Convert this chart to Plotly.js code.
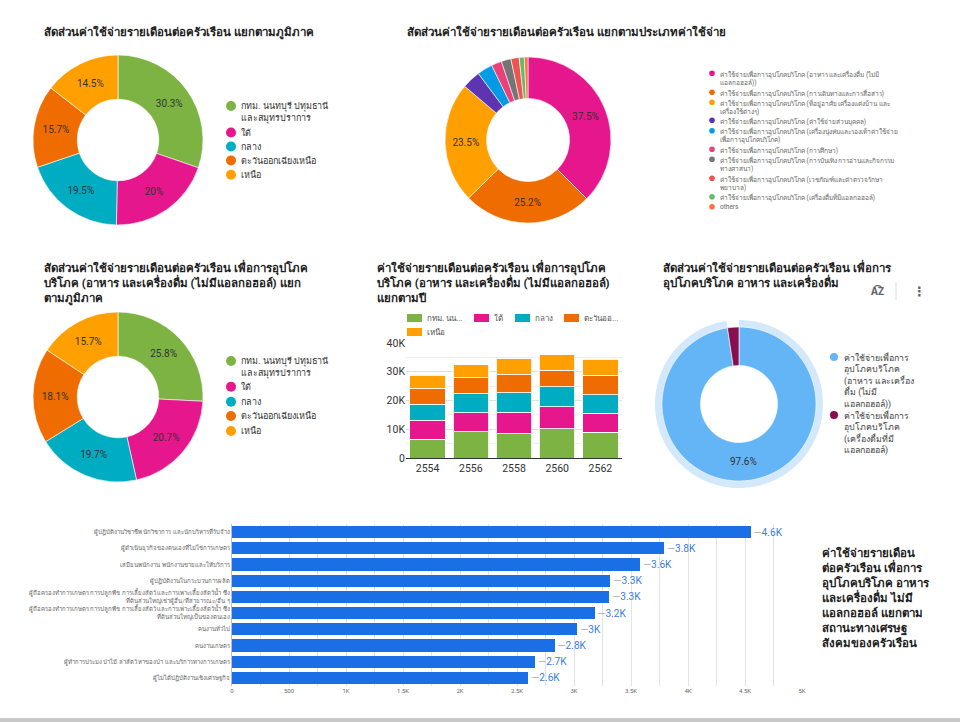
<!DOCTYPE html>
<html><head><meta charset="utf-8">
<script src="https://cdn.plot.ly/plotly-3.0.1.min.js"></script>
<style>html,body{margin:0;padding:0;background:#fff;}#chart{width:960px;height:722px;}</style>
</head><body><div id="chart"></div>
<script>
// ---------- data ----------
const regionNames = ['กทม. นนทบุรี ปทุมธานี<br>และสมุทรปราการ', 'ใต้', 'กลาง', 'ตะวันออกเฉียงเหนือ', 'เหนือ'];
const regionColors = ['#7cb342', '#e6168c', '#00acc1', '#ef6c00', '#ffa000'];
const regionShareAll = [30.3, 20, 19.5, 15.7, 14.5];
const regionShareFood = [25.8, 20.7, 19.7, 18.1, 15.7];

const expenseNames = [
  'ค่าใช้จ่ายเพื่อการอุปโภคบริโภค (อาหาร และเครื่องดื่ม (ไม่มี<br>แอลกอฮอล์))',
  'ค่าใช้จ่ายเพื่อการอุปโภคบริโภค (การเดินทางและการสื่อสาร)',
  'ค่าใช้จ่ายเพื่อการอุปโภคบริโภค (ที่อยู่อาศัย เครื่องแต่งบ้าน และ<br>เครื่องใช้ต่างๆ)',
  'ค่าใช้จ่ายเพื่อการอุปโภคบริโภค (ค่าใช้จ่ายส่วนบุคคล)',
  'ค่าใช้จ่ายเพื่อการอุปโภคบริโภค (เครื่องนุ่งห่มและรองเท้าค่าใช้จ่าย<br>เพื่อการอุปโภคบริโภค)',
  'ค่าใช้จ่ายเพื่อการอุปโภคบริโภค (การศึกษา)',
  'ค่าใช้จ่ายเพื่อการอุปโภคบริโภค (การบันเทิง การอ่านและกิจกรรม<br>ทางศาสนา)',
  'ค่าใช้จ่ายเพื่อการอุปโภคบริโภค (เวชภัณฑ์และค่าตรวจรักษา<br>พยาบาล)',
  'ค่าใช้จ่ายเพื่อการอุปโภคบริโภค (เครื่องดื่มที่มีแอลกอฮอล์)',
  'others'
];
const expenseColors = ['#e6168c', '#ef6c00', '#ffa000', '#5e35b1', '#039be5', '#ec407a', '#757575', '#ef5350', '#66bb6a', '#ff7043'];
const expenseShare = [37.5, 25.2, 23.5, 3.6, 3.0, 2.0, 1.9, 1.6, 1.0, 0.7];

const years = ['2554', '2556', '2558', '2560', '2562'];
const foodBkk = [6600, 9100, 8500, 10100, 9000];
const foodSouth = [6500, 6600, 7500, 7700, 6600];
const foodCentral = [5600, 6700, 6700, 6900, 6400];
const foodNortheast = [5400, 5500, 6300, 5900, 6700];
const foodNorth = [4700, 4600, 5500, 5300, 5600];
const barLegendNames = ['กทม. นน...', 'ใต้', 'กลาง', 'ตะวันออ...', 'เหนือ'];
const yTickVals = [0, 10000, 20000, 30000, 40000];
const yTickText = ['0', '10K', '20K', '30K', '40K'];

const foodTypeNames = [
  'ค่าใช้จ่ายเพื่อการ<br>อุปโภคบริโภค<br>(อาหาร และเครื่อง<br>ดื่ม (ไม่มี<br>แอลกอฮอล์))',
  'ค่าใช้จ่ายเพื่อการ<br>อุปโภคบริโภค<br>(เครื่องดื่มที่มี<br>แอลกอฮอล์)'
];
const foodTypeShare = [97.6, 2.4];
const foodTypeColors = ['#64b5f6', '#880e4f'];

const statusNames = [
  'ผู้ปฏิบัติงานวิชาชีพ นักวิชาการ และนักบริหารที่รับจ้าง',
  'ผู้ดำเนินธุรกิจของตนเองที่ไม่ใช่การเกษตร',
  'เสมียนพนักงาน พนักงานขายและให้บริการ',
  'ผู้ปฏิบัติงานในกระบวนการผลิต',
  'ผู้ถือครองทำการเกษตร การปลูกพืช การเลี้ยงสัตว์ และการเพาะเลี้ยงสัตว์น้ำ ซึ่ง<br>ที่ดินส่วนใหญ่เช่าผู้อื่น/ที่สาธารณะ/อื่น ๆ',
  'ผู้ถือครองทำการเกษตร การปลูกพืช การเลี้ยงสัตว์ และการเพาะเลี้ยงสัตว์น้ำ ซึ่ง<br>ที่ดินส่วนใหญ่เป็นของตนเอง',
  'คนงานทั่วไป',
  'คนงานเกษตร',
  'ผู้ทำการประมง ป่าไม้ ล่าสัตว์ หาของป่า และบริการทางการเกษตร',
  'ผู้ไม่ได้ปฏิบัติงานเชิงเศรษฐกิจ'
];
const statusSpend = [4550, 3790, 3580, 3320, 3310, 3180, 3030, 2830, 2660, 2600];
const xTickVals = [0, 500, 1000, 1500, 2000, 2500, 3000, 3500, 4000, 4500, 5000];
const xTickText = ['0', '500', '1K', '1.5K', '2K', '2.5K', '3K', '3.5K', '4K', '4.5K', '5K'];

// ---------- helpers ----------
const W = 960, H = 722;
const FONT = 'Roboto, "Noto Sans", "DejaVu Sans", sans-serif';
const X = px => px / W;
const Y = py => 1 - py / H;
const annotations = [];
const shapes = [];
function ann(text, x, y, o) {
  o = o || {};
  annotations.push(Object.assign({
    text: text, x: X(x), y: Y(y), xref: 'paper', yref: 'paper', showarrow: false,
    xanchor: 'left', yanchor: 'middle', align: 'left',
    font: {family: FONT, size: o.size || 10, color: o.color || '#333'}
  }, o.extra || {}));
}
function title(text, x, y, size) {
  ann('<b>' + text + '</b>', x, y - size * 0.65 - 1, {size: size, color: '#212121', extra: {yanchor: 'top'}});
}
function dotLegend(names, colors, dotX, textX, ys, r, size, color) {
  names.forEach((n, i) => {
    shapes.push({type: 'circle', xref: 'paper', yref: 'paper', x0: X(dotX - r), x1: X(dotX + r), y0: Y(ys[i] + r), y1: Y(ys[i] - r), fillcolor: colors[i], line: {width: 0}});
    ann(n, textX, ys[i] - size * 0.65 - 1, {size: size, color: color, extra: {yanchor: 'top'}});
  });
}
function pie(values, colors, names, box, hole) {
  return {
    type: 'pie', values: values, labels: names.map(s => s.replace(/<br>/g, ' ')),
    marker: {colors: colors, line: {color: '#ffffff', width: 0.6}},
    domain: {x: [X(box[0]), X(box[2])], y: [Y(box[3]), Y(box[1])]},
    hole: hole, sort: false, direction: 'clockwise', rotation: 0,
    textinfo: 'percent', textposition: values.map(v => v >= 5 ? 'inside' : 'none'),
    insidetextorientation: 'horizontal',
    insidetextfont: {family: FONT, size: 10, color: '#333'},
    showlegend: false, hoverinfo: 'label+percent'
  };
}

// ---------- traces ----------
const traces = [];
traces.push(pie(regionShareAll, regionColors, regionNames, [33, 55, 203, 225], 0.48));
traces.push(pie(expenseShare, expenseColors, expenseNames, [445, 57, 611, 223], 0.5));
traces.push(pie(regionShareFood, regionColors, regionNames, [33, 312, 203, 482], 0.48));
// highlight ring behind the last donut
traces.push({
  type: 'pie', values: foodTypeShare, labels: ['r1', 'r2'], sort: false, direction: 'clockwise', rotation: 0,
  marker: {colors: ['#d3e8fb', 'rgba(0,0,0,0)'], line: {width: 0}},
  domain: {x: [X(655), X(823)], y: [Y(488), Y(320)]}, hole: 0.9, textinfo: 'none', showlegend: false, hoverinfo: 'skip'
});
traces.push(pie(foodTypeShare, foodTypeColors, foodTypeNames, [662, 327, 816, 481], 0.5));

const stackSeries = [foodBkk, foodSouth, foodCentral, foodNortheast, foodNorth];
stackSeries.forEach((s, i) => {
  traces.push({
    type: 'bar', x: years, y: s, name: barLegendNames[i], xaxis: 'x', yaxis: 'y',
    marker: {color: regionColors[i], line: {color: 'rgba(255,255,255,0.85)', width: 1}},
    showlegend: false, hovertemplate: '%{x}: %{y}<extra></extra>'
  });
});

const statusText = statusSpend.map(v => (Math.round(v / 100) / 10).toString() + 'K');
traces.push({
  type: 'bar', orientation: 'h', x: statusSpend, y: statusNames, xaxis: 'x2', yaxis: 'y2',
  width: 0.76,
  marker: {color: '#1a6fe6'}, text: statusText,
  texttemplate: "<span style='color:#b0b0b0'>—</span>%{text}", textposition: 'outside',
  textfont: {family: FONT, size: 11.5, color: '#3b7de0'}, cliponaxis: false, showlegend: false,
  hovertemplate: '%{y}: %{x}<extra></extra>'
});

// ---------- text / legends ----------
title('สัดส่วนค่าใช้จ่ายรายเดือนต่อครัวเรือน แยกตามภูมิภาค', 42, 31, 11.5);
title('สัดส่วนค่าใช้จ่ายรายเดือนต่อครัวเรือน แยกตามประเภทค่าใช้จ่าย', 405, 31, 11.5);
title('สัดส่วนค่าใช้จ่ายรายเดือนต่อครัวเรือน เพื่อการอุปโภค<br>บริโภค (อาหาร และเครื่องดื่ม (ไม่มีแอลกอฮอล์) แยก<br>ตามภูมิภาค', 42, 265, 11.5);
title('ค่าใช้จ่ายรายเดือนต่อครัวเรือน เพื่อการอุปโภค<br>บริโภค (อาหาร และเครื่องดื่ม (ไม่มีแอลกอฮอล์)<br>แยกตามปี', 375, 265, 11.5);
title('สัดส่วนค่าใช้จ่ายรายเดือนต่อครัวเรือน เพื่อการ<br>อุปโภคบริโภค อาหาร และเครื่องดื่ม', 661, 265, 11.5);
title('ค่าใช้จ่ายรายเดือน<br>ต่อครัวเรือน เพื่อการ<br>อุปโภคบริโภค อาหาร<br>และเครื่องดื่ม ไม่มี<br>แอลกอฮอล์ แยกตาม<br>สถานะทางเศรษฐ<br>สังคมของครัวเรือน', 820, 552, 11.5);

dotLegend(regionNames, regionColors, 231, 239, [106, 132.5, 146.5, 160.5, 174.7], 5, 9, '#333');
dotLegend(regionNames, regionColors, 231, 239, [361, 386.7, 401.7, 416, 431], 5, 9, '#333');
dotLegend(expenseNames, expenseColors, 712, 718, [73.3, 92.3, 102.3, 120.3, 130.7, 149.3, 159.3, 178.3, 196.7, 206.7], 2.8, 6.5, '#666');
dotLegend(foodTypeNames, foodTypeColors, 834, 842, [357, 415], 4, 8.8, '#444');

const barLegX = [407, 474, 515, 564, 407];
const barLegY = [318, 318, 318, 318, 332];
barLegendNames.forEach((n, i) => {
  shapes.push({type: 'rect', xref: 'paper', yref: 'paper', x0: X(barLegX[i]), x1: X(barLegX[i] + 15), y0: Y(barLegY[i] + 4), y1: Y(barLegY[i] - 4), fillcolor: regionColors[i], line: {width: 0}});
  ann(n, barLegX[i] + 18, barLegY[i], {size: 8, color: '#555'});
});

// toolbar icons
ann('<b>A͡Z</b>', 869, 291, {size: 10, color: '#5f6368'});
shapes.push({type: 'line', xref: 'paper', yref: 'paper', x0: X(896), x1: X(896), y0: Y(282), y1: Y(300), line: {color: '#dadce0', width: 1}});
ann('<b>⋮</b>', 911, 291, {size: 13, color: '#5f6368'});

// bottom gray strip
shapes.push({type: 'rect', xref: 'paper', yref: 'paper', x0: 0, x1: 1, y0: 0, y1: Y(718), fillcolor: '#c8c8c8', line: {width: 0}});

const layout = {
  width: W, height: H, margin: {l: 0, r: 0, t: 0, b: 0},
  paper_bgcolor: '#ffffff', plot_bgcolor: 'rgba(0,0,0,0)',
  font: {family: FONT, color: '#333'},
  barmode: 'stack', bargap: 0.18,
  showlegend: false,
  xaxis: {domain: [X(406), X(622)], anchor: 'y', type: 'category', showline: true, linecolor: '#333', linewidth: 1,
    ticks: '', tickfont: {size: 10.5, color: '#333'}, showgrid: false, fixedrange: true},
  yaxis: {domain: [Y(458), Y(343)], anchor: 'x', range: [0, 40000], tickvals: yTickVals, ticktext: yTickText,
    tickfont: {size: 10.5, color: '#333'}, gridcolor: '#e0e0e0', zeroline: false, ticks: '',
    minor: {dtick: 5000, showgrid: true, gridcolor: '#eeeeee'}, fixedrange: true},
  xaxis2: {domain: [X(232), X(802)], anchor: 'y2', range: [0, 5000], tickvals: xTickVals, ticktext: xTickText,
    tickfont: {size: 6, color: '#666'}, gridcolor: '#e3e3e3', zeroline: false, ticks: '',
    minor: {dtick: 250, showgrid: true, gridcolor: '#e3e3e3'}, fixedrange: true},
  yaxis2: {domain: [Y(686), Y(524)], anchor: 'x2', type: 'category', autorange: 'reversed',
    tickfont: {size: 6, color: '#666'}, showline: true, linecolor: '#bdbdbd', ticks: '', showgrid: false, fixedrange: true},
  annotations: annotations, shapes: shapes
};
Plotly.newPlot('chart', traces, layout, {displayModeBar: false, staticPlot: true});
</script>
</body></html>
